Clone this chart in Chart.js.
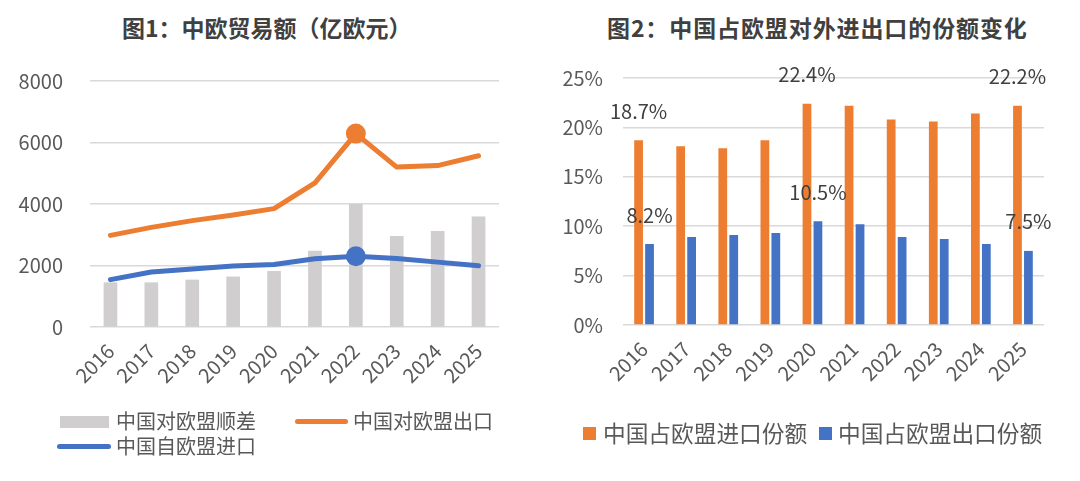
<!DOCTYPE html>
<html>
<head>
<meta charset="utf-8">
<script src="https://cdn.jsdelivr.net/npm/chart.js@4.4.1/dist/chart.umd.min.js"></script>
<style>
  html,body{margin:0;padding:0;background:#fff;}
  body{width:1080px;height:481px;position:relative;overflow:hidden;font-family:"Noto Sans CJK SC","Noto Sans",sans-serif;}
  .abs{position:absolute;}
  .title{position:absolute;top:12px;font-size:23px;font-weight:bold;color:#404040;white-space:nowrap;line-height:30px;}
  .lg{position:absolute;color:#595959;white-space:nowrap;line-height:24px;}
</style>
</head>
<body>
<div class="title" style="left:122px;">图1：中欧贸易额（亿欧元）</div>
<div class="title" style="left:607px;letter-spacing:0.9px;">图2：中国占欧盟对外进出口的份额变化</div>

<canvas id="c1" class="abs" width="540" height="481" style="left:0;top:0;width:540px;height:481px;"></canvas>
<canvas id="c2" class="abs" width="540" height="481" style="left:540px;top:0;width:540px;height:481px;"></canvas>

<!-- left legend -->
<div class="abs" style="left:60px;top:416px;width:49px;height:12px;background:#D0CECE;"></div>
<div class="lg" style="left:116px;top:409px;font-size:20px;">中国对欧盟顺差</div>
<div class="abs" style="left:295px;top:419px;width:53px;height:5px;border-radius:3px;background:#ED7D31;"></div>
<div class="lg" style="left:353px;top:409px;font-size:20px;">中国对欧盟出口</div>
<div class="abs" style="left:57px;top:444px;width:54px;height:5px;border-radius:3px;background:#4472C4;"></div>
<div class="lg" style="left:116px;top:434px;font-size:20px;">中国自欧盟进口</div>

<!-- right legend -->
<div class="abs" style="left:583px;top:427px;width:13px;height:13px;background:#ED7D31;"></div>
<div class="lg" style="left:603px;top:419px;font-size:22.7px;line-height:28px;">中国占欧盟进口份额</div>
<div class="abs" style="left:819px;top:427px;width:13px;height:13px;background:#4472C4;"></div>
<div class="lg" style="left:838px;top:419px;font-size:22.7px;line-height:28px;">中国占欧盟出口份额</div>

<script>
// ---- data ----
const years = ['2016','2017','2018','2019','2020','2021','2022','2023','2024','2025'];
const surplus = [1440, 1440, 1530, 1630, 1810, 2470, 3990, 2950, 3110, 3580];
const exportsEU = [2980, 3240, 3460, 3640, 3850, 4690, 6290, 5200, 5250, 5570];
const importsEU = [1540, 1790, 1890, 1980, 2030, 2220, 2300, 2230, 2110, 1990];
const leftTicks = [0, 2000, 4000, 6000, 8000];

const shareImport = [18.7, 18.1, 17.9, 18.7, 22.4, 22.2, 20.8, 20.6, 21.4, 22.2];
const shareExport = [8.2, 8.9, 9.1, 9.3, 10.5, 10.2, 8.9, 8.7, 8.2, 7.5];
const rightTicks = [0, 5, 10, 15, 20, 25];
const labelYears = ['2016', '2020', '2025'];
const markerYear = '2022';

const FONT = '"Noto Sans CJK SC", "Noto Sans", sans-serif';
const TICK = '#595959';
const GRID = '#D9D9D9';

const fixY = w => function(scale){ scale.width = w; };
const fixX = h => function(scale){ scale.height = h; };

new Chart(document.getElementById('c1'), {
  data: {
    labels: years,
    datasets: [
      { type:'line', label:'中国对欧盟出口', data: exportsEU, borderColor:'#ED7D31', backgroundColor:'#ED7D31',
        borderWidth:5, tension:0, order:0, borderCapStyle:'round', borderJoinStyle:'round',
        pointRadius: ctx => years[ctx.dataIndex] === markerYear ? 7.5 : 0, pointHoverRadius:0 },
      { type:'line', label:'中国自欧盟进口', data: importsEU, borderColor:'#4472C4', backgroundColor:'#4472C4',
        borderWidth:5, tension:0, order:1, borderCapStyle:'round', borderJoinStyle:'round',
        pointRadius: ctx => years[ctx.dataIndex] === markerYear ? 7.5 : 0, pointHoverRadius:0 },
      { type:'bar', label:'中国对欧盟顺差', data: surplus, backgroundColor:'#D0CECE', barThickness:13, order:2 }
    ]
  },
  options: {
    responsive:false, animation:false, devicePixelRatio:1,
    layout:{ padding:{ left:0, right:41, top:81, bottom:94 } },
    plugins:{ legend:{display:false}, tooltip:{enabled:false} },
    scales:{
      x:{ grid:{display:false}, border:{display:false},
          ticks:{ color:TICK, font:{family:FONT, size:20}, maxRotation:45, minRotation:45, padding:4 },
          afterFit: fixX(60) },
      y:{ min:0, max:8000, grid:{color:GRID, lineWidth:1.5, drawTicks:false}, border:{display:false},
          afterBuildTicks: s => { s.ticks = leftTicks.map(v => ({value:v})); },
          ticks:{ color:TICK, font:{family:FONT, size:20}, padding:27, callback: v => String(v) },
          afterFit: fixY(90) }
    }
  }
});

const labelPlugin = {
  id:'vlabels',
  afterDatasetsDraw(chart){
    const ctx = chart.ctx;
    ctx.save();
    ctx.font = '20px ' + FONT;
    ctx.fillStyle = '#404040';
    ctx.textAlign = 'center';
    ctx.textBaseline = 'middle';
    chart.data.datasets.forEach((ds, di) => {
      const meta = chart.getDatasetMeta(di);
      meta.data.forEach((el, i) => {
        if (labelYears.includes(chart.data.labels[i])) {
          ctx.fillText(ds.data[i].toFixed(1) + '%', el.x, el.y - 29);
        }
      });
    });
    ctx.restore();
  }
};

new Chart(document.getElementById('c2'), {
  type:'bar',
  data:{
    labels: years,
    datasets:[
      { label:'中国占欧盟进口份额', data: shareImport, backgroundColor:'#ED7D31', categoryPercentage:0.52, barPercentage:0.8 },
      { label:'中国占欧盟出口份额', data: shareExport, backgroundColor:'#4472C4', categoryPercentage:0.52, barPercentage:0.8 }
    ]
  },
  options:{
    responsive:false, animation:false, devicePixelRatio:1,
    layout:{ padding:{ left:0, right:36, top:78, bottom:96 } },
    plugins:{ legend:{display:false}, tooltip:{enabled:false} },
    scales:{
      x:{ grid:{display:false}, border:{display:false},
          ticks:{ color:TICK, font:{family:FONT, size:20}, maxRotation:45, minRotation:45, padding:4 },
          afterFit: fixX(60) },
      y:{ min:0, max:25, grid:{color:GRID, lineWidth:1.5, drawTicks:false}, border:{display:false},
          afterBuildTicks: s => { s.ticks = rightTicks.map(v => ({value:v})); },
          ticks:{ color:TICK, font:{family:FONT, size:20}, padding:20, callback: v => v + '%' },
          afterFit: fixY(83) }
    }
  },
  plugins:[labelPlugin]
});
</script>
</body>
</html>
